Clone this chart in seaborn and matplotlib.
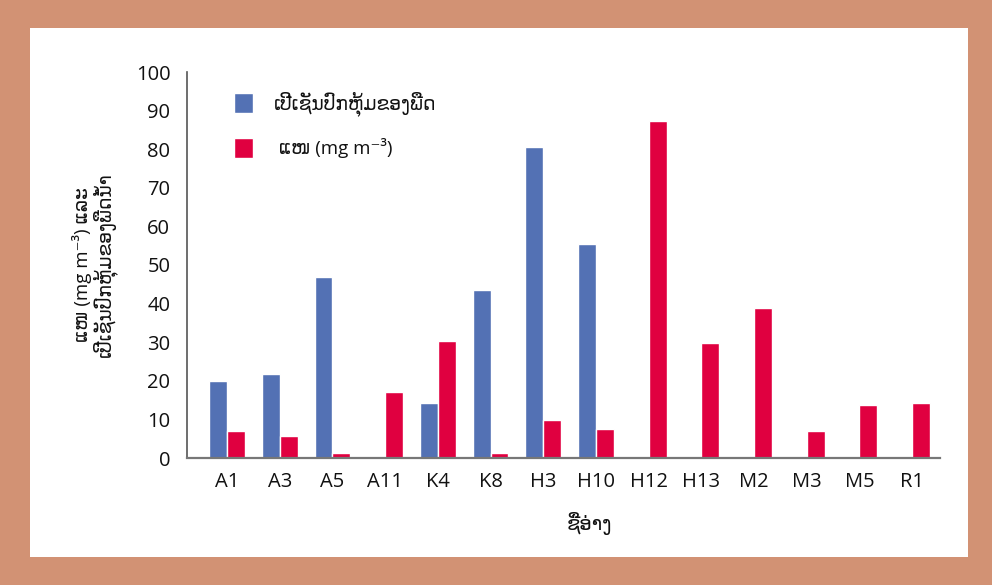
import matplotlib
matplotlib.use("Agg")
import matplotlib.pyplot as plt
import matplotlib.patches as mpatches
import seaborn as sns
import pandas as pd
import numpy as np

sites = ["A1", "A3", "A5", "A11", "K4", "K8", "H3", "H10", "H12", "H13", "M2", "M3", "M5", "R1"]
cover = [19.9, 21.8, 46.9, np.nan, 14.2, 43.5, 80.6, 55.4, np.nan, np.nan, np.nan, np.nan, np.nan, np.nan]
algae = [7.0, 5.7, 1.3, 17.1, 30.3, 1.3, 9.8, 7.5, 87.3, 29.8, 38.9, 7.0, 13.7, 14.2]
series_names = ["ເປີເຊັນປົກຫຸ້ມຂອງພືດ", " ແໜ (mg m⁻³)"]
yticks = [0, 10, 20, 30, 40, 50, 60, 70, 80, 90, 100]

blue = "#5371B4"
red = "#E00040"

df = pd.DataFrame({
    "site": sites * 2,
    "value": cover + algae,
    "series": [series_names[0]] * len(sites) + [series_names[1]] * len(sites),
})

sns.set_style("white")
plt.rcParams["font.family"] = ["Open Sans", "DejaVu Sans"]
plt.rcParams["text.color"] = "#111111"
plt.rcParams["axes.labelcolor"] = "#111111"
plt.rcParams["xtick.color"] = "#111111"
plt.rcParams["ytick.color"] = "#111111"

fig = plt.figure(figsize=(9.92, 5.85), dpi=100)
fig.patch.set_facecolor("#D29274")
fig.patches.append(mpatches.Rectangle((30 / 992, 28 / 585), 938 / 992, 529 / 585,
                                      transform=fig.transFigure, facecolor="white",
                                      edgecolor="none", zorder=-10))

ax = fig.add_axes([187 / 992, 1 - 458 / 585, 753 / 992, 386 / 585])
ax.set_facecolor("none")
ax.set_zorder(5)

sns.barplot(data=df, x="site", y="value", hue="series", order=sites,
            hue_order=series_names, palette=[blue, red], width=0.68,
            saturation=1, errorbar=None, ax=ax)

ax.set_xlim(-0.76, 13.53)
ax.set_ylim(0, 100)
ax.set_yticks(yticks)
ax.set_yticklabels([str(t) for t in yticks], fontsize=14.5)
ax.tick_params(axis="y", direction="in", length=7, width=1.3, color="#222222", pad=12)
ax.tick_params(axis="x", length=0, pad=10, labelsize=14.5)

for s in ["top", "right"]:
    ax.spines[s].set_visible(False)
ax.spines["left"].set_color("#555555")
ax.spines["left"].set_linewidth(1.2)
ax.spines["bottom"].set_color("#777777")
ax.spines["bottom"].set_linewidth(1.6)

ax.set_xlabel("ຊື່ອ່າງ", fontsize=14)
ax.xaxis.set_label_coords(0.535, -0.14)
ax.set_ylabel("ແໜ (mg m⁻³) ແລະ\nເປີເຊັນປົກຫຸ້ມຂອງພືດນ້ຳ", fontsize=13.5, linespacing=1.0)
ax.yaxis.set_label_coords(-0.093, 0.5)

handles = [mpatches.Patch(facecolor=blue), mpatches.Patch(facecolor=red)]
leg = ax.legend(handles, series_names, loc="upper left", bbox_to_anchor=(0.062, 0.95),
                frameon=False, fontsize=13.5, handlelength=1.05, handleheight=1.3,
                handletextpad=1.1, labelspacing=1.15, borderpad=0, borderaxespad=0)

fig.savefig("out.png", dpi=100, facecolor=fig.get_facecolor())
